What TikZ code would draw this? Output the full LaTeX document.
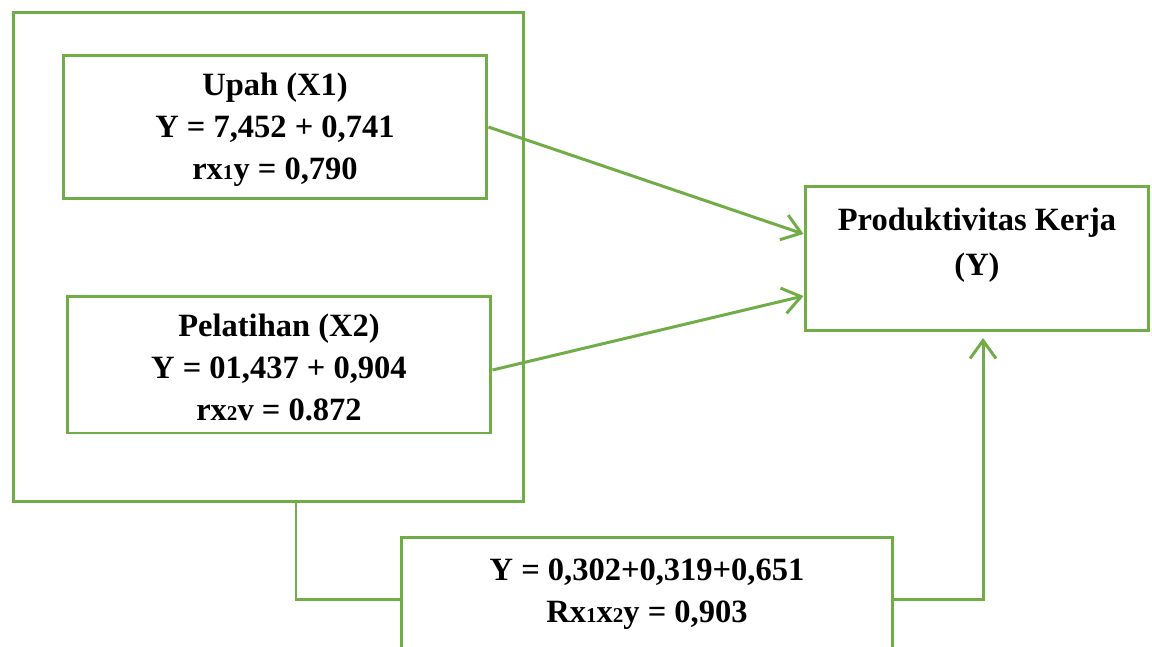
\documentclass[tikz,border=0pt]{standalone}
\usepackage{fontspec}
\setmainfont{Liberation Serif}
\usepackage{tikz}
\usetikzlibrary{arrows.meta}
\definecolor{hijau}{HTML}{70AD47}
\newcommand{\kecil}[1]{{\fontsize{12}{12}\selectfont #1}}
\tikzset{
  kotak/.style={draw=hijau, line width=1.7pt, align=center, inner sep=0pt,
    font=\fontsize{18.5}{23.9}\selectfont\bfseries},
  garis/.style={draw=hijau, line width=1.7pt},
  panah/.style={garis, -{Straight Barb[length=3.6mm,width=5.2mm,line width=1.7pt]}}
}

\begin{document}
\begin{tikzpicture} [x=0.02cm, y=-0.02cm]
\clip (0,0) rectangle (1152,646);
\node[kotak, minimum width=10.22cm, minimum height=9.8cm] (luar) at (268.5,257) {};
\node[kotak, minimum width=8.48cm, minimum height=2.88cm] (upah) at (275,127)
  {\\[-8pt] Upah (X1)\\ Y = 7,452 + 0,741\\ rx\kecil{1}y = 0,790};
\node[kotak, minimum width=8.48cm, minimum height=2.74cm] (latih) at (279,364.5)
  {\\[-8pt] Pelatihan (X2)\\ Y = 01,437 + 0,904\\ rx\kecil{2}v = 0.872};
\node[kotak, minimum width=6.88cm, minimum height=2.9cm] (prod) at (977,258.5)
  {Produktivitas Kerja\\[2pt] (Y)\\[-12pt] \strut};
\node[kotak, minimum width=9.84cm, minimum height=2.48cm] (ganda) at (647,599)
  {Y = 0,302+0,319+0,651\\ Rx\kecil{1}x\kecil{2}y = 0,903\\[-22pt] \strut};
% garis penghubung
\coordinate (bawah) at (296,502);
\coordinate (atas) at (983,338);
\draw[panah] (upah.east) -- (prod.west |- 0,234);
\draw[panah] (latih.east |- 0,370) -- (prod.west |- 0,296);
\draw[garis] (bawah) |- (ganda.west);
\draw[panah] (ganda.east) -| (atas);
\end{tikzpicture}
\end{document}
